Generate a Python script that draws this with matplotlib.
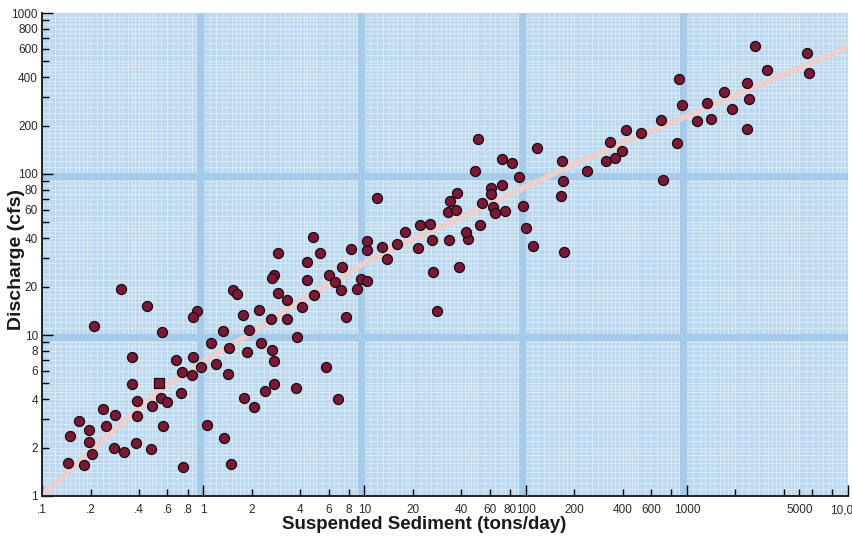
import numpy as np
import matplotlib.pyplot as plt

# suspended sediment (tons/day) vs discharge (cfs)
sediment = [
    2.92, 4.39, 2.76, 2.68, 4.42, 0.309, 1.52, 1.63, 2.92, 3.33,
    0.45, 2.23, 4.08, 1.76, 0.91, 0.87, 2.62, 3.30, 0.21, 1.33,
    1.92, 0.557, 3.84, 1.11, 2.28, 1.45, 2.68, 1.86, 0.36, 0.68,
    0.87, 2.75, 1.20, 0.965, 0.735, 0.85, 1.42,
    0.362, 2.75, 3.77, 2.42, 0.728, 0.55, 0.597, 1.79, 0.387, 2.07,
    0.481, 0.24, 0.283, 0.387, 0.17, 0.249, 1.05, 0.565, 0.196, 0.149,
    0.196, 1.35, 0.383, 0.28, 0.324, 0.203, 0.474, 0.144, 0.182, 0.746,
    1.48,
    5.31, 8.22, 10.4, 12.8, 21.6, 173, 7.23, 13.9, 6.01, 26.5,
    38.5, 6.54, 9.53, 10.4, 7.13, 8.96, 4.87, 7.69, 28.1, 5.78,
    6.86, 4.82, 10.4, 16.0, 26.3, 33.5, 43.7, 111, 17.8, 42.7,
    22.1, 25.6, 52.4, 100, 32.9, 37.0, 74.2, 62.5, 64.6, 96.8,
    53.4, 33.8, 12.0, 165, 37.7, 61.0, 61.0, 71.4, 171, 90.6,
    48.8, 82.7, 71.1, 169, 118, 50.5,
    242, 315, 357, 398, 335, 420, 520, 689, 873, 709,
    930, 891, 1150, 1420, 1340, 1710, 1910, 2360, 2440, 2360,
    3130, 2650, 5590, 5750,
]
discharge = [
    32.5, 28.6, 23.6, 22.5, 22.0, 19.4, 19.1, 18.0, 18.2, 16.4,
    15.2, 14.3, 14.9, 13.3, 14.0, 12.9, 12.5, 12.6, 11.3, 10.6,
    10.8, 10.4, 9.77, 8.97, 8.89, 8.28, 8.08, 7.82, 7.34, 7.0,
    7.28, 6.90, 6.61, 6.34, 5.93, 5.67, 5.73,
    4.94, 4.94, 4.71, 4.49, 4.35, 4.08, 3.84, 4.06, 3.89, 3.59,
    3.63, 3.49, 3.19, 3.14, 2.94, 2.74, 2.77, 2.72, 2.56, 2.35,
    2.18, 2.29, 2.14, 1.99, 1.88, 1.82, 1.95, 1.60, 1.56, 1.51,
    1.57,
    32.2, 34.4, 33.5, 35.1, 34.6, 32.6, 26.4, 29.5, 23.6, 24.7,
    26.4, 21.3, 22.2, 21.6, 18.9, 19.3, 17.6, 12.9, 14.1, 6.31,
    4.01, 40.7, 38.4, 36.7, 38.8, 38.8, 39.2, 35.6, 43.5, 43.9,
    48.3, 48.8, 48.5, 46.5, 58.2, 59.7, 59.0, 62.8, 57.1, 63.1,
    65.6, 68.1, 70.8, 72.5, 75.7, 81.7, 75.4, 86.0, 90.3, 96.1,
    104, 117, 124, 121, 146, 166,
    104, 120, 125, 138, 159, 188, 181, 215, 155, 92.0,
    268, 391, 214, 219, 276, 321, 253, 367, 293, 189,
    440, 626, 564, 424,
]
# one sample drawn with a square marker
square_sediment = [0.532]
square_discharge = [5.01]

# fitted rating curve
trend_sediment = [0.1, 0.252, 0.539, 1.05, 2.15, 4.6, 11.1, 48.5, 217, 1390, 10000]
trend_discharge = [1.0, 2.34, 4.56, 7.0, 10.8, 17.8, 29.6, 59, 120, 264, 615]

x_ticks = [0.1, 0.2, 0.4, 0.6, 0.8, 1, 2, 4, 6, 8, 10, 20, 40, 60, 80,
           100, 200, 400, 600, 800, 1000, 2000, 4000, 5000, 6000, 8000, 10000]
x_labels = [".1", ".2", ".4", ".6", ".8", "1", "2", "4", "6", "8", "10", "20", "40", "60", "80",
            "100", "200", "400", "600", "", "1000", "", "", "5000", "", "", "10,000"]
y_ticks = [1, 2, 3, 4, 5, 6, 7, 8, 9, 10, 20, 30, 40, 50, 60, 70, 80, 90,
           100, 200, 300, 400, 500, 600, 700, 800, 900, 1000]
y_labels = ["1", "2", "", "4", "", "6", "", "8", "", "10", "20", "", "40", "", "60", "", "80", "",
            "100", "200", "", "400", "", "600", "", "800", "", "1000"]

plt.rcParams["font.family"] = ["Liberation Sans", "DejaVu Sans"]

fig = plt.figure(figsize=(8.52, 5.36), dpi=100)
ax = fig.add_axes([42 / 852, 40 / 536, 806 / 852, 483 / 536])
ax.set_xscale("log")
ax.set_yscale("log")
ax.set_xlim(0.1, 10000)
ax.set_ylim(1, 1000)
ax.set_facecolor("#BCD9F0")

# graph-paper background
fine = np.concatenate([np.arange(1.1, 2, 0.1), np.arange(2, 5, 0.2), np.arange(5, 10, 0.5)])
for base in [0.1, 1, 10, 100, 1000]:
    for v in fine:
        ax.axvline(base * v, color="white", lw=0.5, alpha=0.55, zorder=0)
for base in [1, 10, 100]:
    for v in fine:
        ax.axhline(base * v, color="white", lw=0.5, alpha=0.55, zorder=0)
for d in [1, 10, 100, 1000]:
    ax.axvline(d * 0.95, color="#A6CBEA", lw=5, zorder=0.5)
for d in [10, 100]:
    ax.axhline(d * 0.97, color="#A6CBEA", lw=5, zorder=0.5)

ax.plot(trend_sediment, trend_discharge, color="#EBD0CC", lw=4,
        solid_capstyle="round", zorder=2)
ax.plot(sediment, discharge, "o", ms=7.2, mfc="#7A1836", mec="#1A0A10", mew=0.9, zorder=3)
ax.plot(square_sediment, square_discharge, "s", ms=6.5, mfc="#7A1836", mec="#1A0A10",
        mew=0.9, zorder=3)

ax.xaxis.set_minor_locator(plt.NullLocator())
ax.yaxis.set_minor_locator(plt.NullLocator())
ax.set_xticks(x_ticks, x_labels)
ax.set_yticks(y_ticks, y_labels)
ax.tick_params(direction="in", length=5, width=1, labelsize=8.5, labelcolor="#2A2A2A",
               top=False, right=False)
ax.tick_params(axis="x", pad=6)
ax.tick_params(axis="y", pad=3)
for t, v in zip(ax.xaxis.get_major_ticks(), x_ticks):
    if v in (0.1, 1, 10, 100, 1000, 10000):
        t.tick1line.set_markersize(8)
for t, v in zip(ax.yaxis.get_major_ticks(), y_ticks):
    if v in (1, 10, 100, 1000):
        t.tick1line.set_markersize(8)

for side in ["top", "right"]:
    ax.spines[side].set_visible(False)
for side in ["left", "bottom"]:
    ax.spines[side].set_linewidth(1.4)
    ax.spines[side].set_color("#222222")

ax.set_xlabel("Suspended Sediment (tons/day)", fontsize=13.5, fontweight="bold",
              color="#1A1A1A")
ax.xaxis.set_label_coords(0.474, -0.041, transform=ax.transAxes)
ax.xaxis.label.set_va("top")
ax.set_ylabel("Discharge (cfs)", fontsize=14, fontweight="bold", color="#1A1A1A")
ax.yaxis.set_label_coords(-0.021, 0.49)

fig.savefig("out.png", dpi=100)
